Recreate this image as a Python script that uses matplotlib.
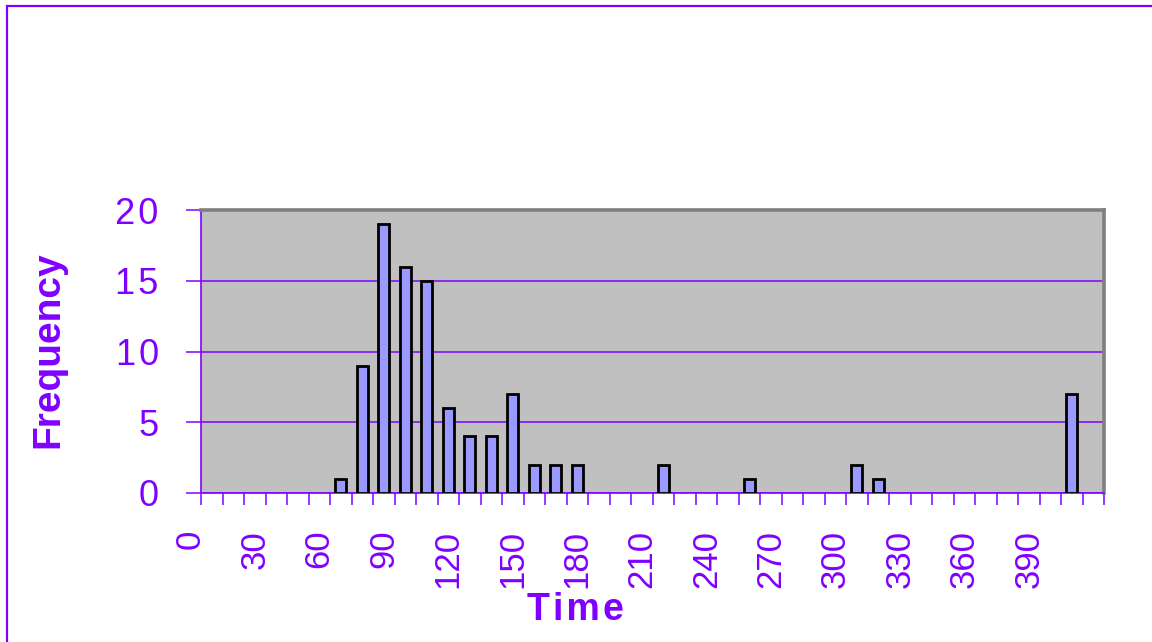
"""
Histogram of completion times (Excel-style bar chart).
"""
import matplotlib
matplotlib.use("Agg")
import matplotlib.pyplot as plt
from matplotlib.patches import Rectangle

# bins (upper edge, 10-wide) that hold at least one observation
time_bins = [70, 80, 90, 100, 110, 120, 130, 140, 150, 160, 170, 180,
             220, 260, 310, 320, 410]
frequency = [1, 9, 19, 16, 15, 6, 4, 4, 7, 2, 2, 2, 2, 1, 2, 1, 7]

x_labels = [0, 30, 60, 90, 120, 150, 180, 210, 240, 270, 300, 330, 360, 390]
y_ticks = [0, 5, 10, 15, 20]

PURPLE = "#8000ff"
BAR = "#9999ff"
PLOT_BG = "#c0c0c0"
HS = "\u200a"  # hair space, mimics the loose Excel letter spacing

plt.rcParams["font.family"] = ["Liberation Sans", "DejaVu Sans"]

W, H = 1152, 642
fig = plt.figure(figsize=(W / 100, H / 100), dpi=100)
fig.patch.set_facecolor("white")

# outer chart border (runs off the right and bottom of the image)
fig.patches.append(Rectangle((7 / W, -0.05), 1.1, (H - 6) / H + 0.05,
                             transform=fig.transFigure, fill=False,
                             edgecolor=PURPLE, lw=1.6))

ax = fig.add_axes([201 / W, 1 - 493 / H, (1104 - 201) / W, (493 - 210) / H])
ax.set_facecolor(PLOT_BG)

ax.bar(time_bins, frequency, width=5.2, color=BAR, edgecolor="black",
       lw=2.0, zorder=3)

ax.set_xlim(5, 425)
ax.set_ylim(0, 20)

# gridlines
ax.set_yticks(y_ticks)
ax.set_yticklabels([HS.join(str(v)) for v in y_ticks])
ax.grid(axis="y", color=PURPLE, lw=1.1, zorder=1)
ax.set_axisbelow(True)

# spines
for side in ["top", "right"]:
    ax.spines[side].set_color("#808080")
    ax.spines[side].set_linewidth(2.6)
for side in ["left", "bottom"]:
    ax.spines[side].set_color(PURPLE)
    ax.spines[side].set_linewidth(1.2)

# y axis ticks and labels
ax.tick_params(axis="y", direction="out", length=10.5, width=1.1,
               color=PURPLE, labelcolor=PURPLE, labelsize=26, pad=20)

# x axis: tick marks at every bin boundary, labels every third bin
ax.set_xticks(list(range(5, 430, 10)))
ax.set_xticklabels([])
ax.tick_params(axis="x", direction="out", length=8.5, width=1.1,
               color=PURPLE)
for lab in x_labels:
    ax.annotate(str(lab), xy=(lab, 0),
                xycoords=("data", "axes fraction"),
                xytext=(0, -26.5), textcoords="offset points",
                rotation=90, ha="center", va="top", fontsize=25,
                color=PURPLE, annotation_clip=False)

fig.text(48 / W, 1 - 350 / H, "Frequency", rotation=90, ha="center",
         va="center", fontsize=28, fontweight="bold", color=PURPLE)
fig.text(575 / W, 1 - 610 / H, HS.join("Time"), ha="center",
         va="center", fontsize=27, fontweight="bold", color=PURPLE)

fig.savefig("out.png", dpi=100, facecolor="white")
